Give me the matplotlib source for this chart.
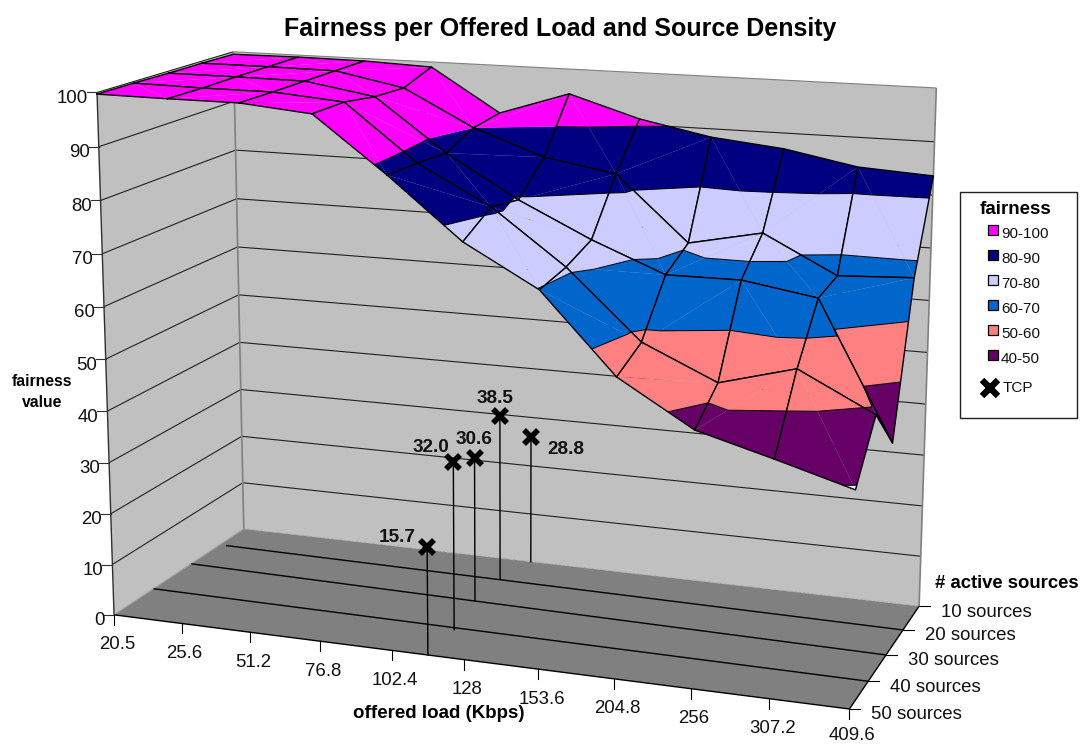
import numpy as np
import matplotlib
matplotlib.use('Agg')
import matplotlib.pyplot as plt
from matplotlib.patches import Rectangle

plt.rcParams['font.family'] = ['Liberation Sans', 'DejaVu Sans']

load_labels = ['20.5', '25.6', '51.2', '76.8', '102.4', '128', '153.6', '204.8', '256', '307.2', '409.6']
source_labels = ['50 sources', '40 sources', '30 sources', '20 sources', '10 sources']

# fairness per offered load, one list per source density
fair_50 = [99.7, 99.6, 99.6, 98.4, 88.3, 77.3, 69.8, 55.4, 47.2, 43.4, 39.4]
fair_40 = [99.7, 99.5, 99.5, 98.4, 88.0, 80.9, 70.9, 58.3, 52.1, 55.9, 48.9]
fair_30 = [99.6, 99.6, 99.5, 97.3, 87.5, 79.6, 73.1, 67.6, 67.7, 65.5, 40.0]
fair_20 = [99.6, 99.6, 99.5, 96.9, 90.0, 85.2, 82.9, 70.7, 73.6, 66.6, 67.3]
fair_10 = [99.5, 99.6, 99.5, 99.0, 90.7, 95.2, 91.1, 88.4, 87.0, 84.4, 83.6]

band_levels = [30, 40, 50, 60, 70, 80, 90, 100]
band_colors = ['#CCFFFF', '#660066', '#FF8080', '#0066CC', '#CCCCFF', '#000080', '#FF00FF']
legend_labels = ['90-100', '80-90', '70-80', '60-70', '50-60', '40-50']

# TCP points, hand placed on the original chart
tcp_labels = ['15.7', '32.0', '30.6', '38.5', '28.8']
tcp_load = [0.450, 0.447, 0.432, 0.431, 0.446]
tcp_depth = [0.0, 0.25, 0.54, 0.79, 1.0]
tcp_height = [20.6, 32.6, 28.5, 33.2, 26.0]

fair = np.array([fair_50, fair_40, fair_30, fair_20, fair_10]) / 100
n_j, n_i = fair.shape

# camera fitted on the box corners and ticks: (load, depth, height) -> pixel
anchors = [(0, 0, 0, 115, 615), (1, 0, 0, 849, 709), (1, 1, 0, 918, 607), (0, 1, 0, 244, 531),
           (0, 0, 1, 96, 94), (0, 1, 1, 233, 54), (1, 1, 1, 938, 90),
           (.1, 0, 0, 182, 623.6), (.2, 0, 0, 250, 632), (.3, 0, 0, 321, 641.5), (.4, 0, 0, 392, 651),
           (.5, 0, 0, 465, 660), (.6, 0, 0, 539, 669.5), (.9, 0, 0, 769, 699),
           (1, .25, 0, 868, 682), (1, .5, 0, 885, 656), (1, .75, 0, 903, 629),
           (0, 1, .5, 238.5, 292), (1, 1, .5, 928, 348), (0, 0, .5, 105, 355)]
A = []
for u, v, w, x, y in anchors:
    X = [u, v, w, 1]
    x, y = x / 1000, y / 1000
    A.append(X + [0, 0, 0, 0] + [-x * c for c in X])
    A.append([0, 0, 0, 0] + X + [-y * c for c in X])
P = np.linalg.svd(np.array(A))[2][-1].reshape(3, 4)
P = np.diag([1000, 1000, 1]) @ P
cam = np.linalg.svd(P)[2][-1]
cam = cam[:3] / cam[3]


def proj(pts):
    pts = np.atleast_2d(pts)
    h = P @ np.column_stack([pts, np.ones(len(pts))]).T
    return h[0] / h[2], h[1] / h[2]


def clip(poly, level, keep_above):
    out = []
    for k in range(len(poly)):
        a, b = poly[k], poly[(k + 1) % len(poly)]
        ina = a[2] >= level if keep_above else a[2] <= level
        inb = b[2] >= level if keep_above else b[2] <= level
        if ina:
            out.append(a)
        if ina != inb:
            out.append(a + (b - a) * (level - a[2]) / (b[2] - a[2]))
    return out


fig = plt.figure(figsize=(10.83, 7.45), dpi=100)
ax = fig.add_axes([0, 0, 1, 1])
ax.set_xlim(0, 1083)
ax.set_ylim(745, 0)
ax.axis('off')


def line3d(a, b, **kw):
    xs, ys = proj([a, b])
    ax.plot(xs, ys, solid_capstyle='butt', **kw)


# walls and floor
x, y = proj([(0, 0, 0), (0, 1, 0), (0, 1, 1), (0, 0, 1)])
ax.fill(x, y, color='#C0C0C0', lw=0, zorder=1)
x, y = proj([(0, 1, 0), (1, 1, 0), (1, 1, 1), (0, 1, 1)])
ax.fill(x, y, color='#C0C0C0', lw=0, zorder=1)
x, y = proj([(0, 0, 0), (1, 0, 0), (1, 1, 0), (0, 1, 0)])
ax.fill(x, y, color='#808080', lw=0, zorder=1)

for k in range(1, 11):
    h = k / 10
    line3d((0, 0, h), (0, 1, h), color='#202020', lw=0.8, zorder=2)
    line3d((0, 1, h), (1, 1, h), color='#202020' if k < 10 else '#808080', lw=0.8, zorder=2)
line3d((0, 0, 0), (0, 0, 1), color='#303030', lw=1, zorder=2)
line3d((0, 1, 0), (0, 1, 1), color='#808080', lw=1.2, zorder=2)
line3d((1, 1, 0), (1, 1, 1), color='#808080', lw=1.2, zorder=2)
line3d((0, 0, 0), (0, 1, 0), color='#A0A0A0', lw=0.8, zorder=2)
line3d((0, 1, 0), (1, 1, 0), color='#A0A0A0', lw=0.6, ls=(0, (3, 2)), zorder=2)
line3d((0, 0, 0), (1, 0, 0), color='k', lw=1, zorder=2)
line3d((1, 0, 0), (1, 1, 0), color='k', lw=1, zorder=2)

# floor lines for the middle densities
for v0, u0, v1 in [(.284, 0, .25), (.571, 0, .5), (.80, .01, .75)]:
    line3d((u0, v0, 0), (1, v1, 0), color='k', lw=1, zorder=2)

# surface, back to front
grid = np.array([[[i / (n_i - 1), j / (n_j - 1), fair[j, i]] for i in range(n_i)] for j in range(n_j)])
quads = [(j, i) for j in range(n_j - 1) for i in range(n_i - 1)]
quads.sort(key=lambda q: -np.linalg.norm(grid[q[0]:q[0] + 2, q[1]:q[1] + 2].mean(axis=(0, 1)) - cam))
zo = 10
for j, i in quads:
    a, b, c, d = grid[j, i], grid[j, i + 1], grid[j + 1, i + 1], grid[j + 1, i]
    # the quad is split on the diagonal with the larger sum
    if a[2] + c[2] >= b[2] + d[2]:
        tris = [(a, b, c), (a, c, d)]
    else:
        tris = [(b, c, d), (b, d, a)]
    for tri in tris:
        for k in range(len(band_colors)):
            poly = clip(list(tri), band_levels[k] / 100, True)
            if poly:
                poly = clip(poly, band_levels[k + 1] / 100, False)
            if len(poly) >= 3:
                x, y = proj(poly)
                ax.fill(x, y, color=band_colors[k], lw=0, zorder=zo)
    zo += 1
    for tri in tris:
        for lev in band_levels[1:-1]:
            h = lev / 100
            cross = []
            for k in range(3):
                p, q = tri[k], tri[(k + 1) % 3]
                if (p[2] - h) * (q[2] - h) < 0:
                    cross.append(p + (q - p) * (h - p[2]) / (q[2] - p[2]))
            if len(cross) == 2:
                line3d(cross[0], cross[1], color='k', lw=0.7, zorder=zo)
    x, y = proj([a, b, c, d, a])
    ax.plot(x, y, color='k', lw=1, solid_joinstyle='round', zorder=zo)
    zo += 1

# ticks and their labels
for k in range(0, 11):
    x, y = proj((0, 0, k / 10))
    ax.plot([x[0] - 10, x[0]], [y[0], y[0]], color='#303030', lw=0.8, zorder=3)
    ax.text(x[0] - 9, y[0] + 6, str(k * 10), ha='right', va='center', fontsize=13.4, color='#111111')
for i, lab in enumerate(load_labels):
    x, y = proj((i / (n_i - 1), 0, 0))
    ax.plot([x[0], x[0]], [y[0], y[0] + 10], color='k', lw=0.8, zorder=3)
    # last label sits against the bottom edge
    ax.text(x[0] + 3, min(y[0] + 30, 735.5), lab, ha='center', va='center', fontsize=13.4, color='#111111')
for j, lab in enumerate(source_labels):
    x, y = proj((1, j / (n_j - 1), 0))
    ax.plot([x[0], x[0] + 11], [y[0], y[0]], color='k', lw=0.8, zorder=3)
    ax.text(x[0] + 22, y[0] + 6, lab, ha='left', va='center', fontsize=13.4, color='#111111')

# TCP points with their drop lines
offsets = [(-30, -9), (-22, -14), (0, -19), (-5, -17), (35, 13)]
zo += 1
for k, lab in enumerate(tcp_labels):
    xs, ys = proj([(tcp_load[k], tcp_depth[k], 0), (tcp_load[k], tcp_depth[k], tcp_height[k] / 100)])
    ax.plot(xs, ys, color='k', lw=1, zorder=zo)
    ax.plot(xs[1], ys[1], marker='x', ms=9.5, mew=4, color='k', zorder=zo)
    ax.text(xs[1] + offsets[k][0], ys[1] + offsets[k][1], lab, ha='center', va='center',
            fontsize=13.7, fontweight='bold', color='#111111', zorder=zo)

# titles
ax.text(560, 29, 'Fairness per Offered Load and Source Density', ha='center', va='center',
        fontsize=18, fontweight='bold')
ax.text(42, 392, 'fairness\nvalue', ha='center', va='center', fontsize=11.3, fontweight='bold', linespacing=1.5)
ax.text(439, 714, 'offered load (Kbps)', ha='center', va='center', fontsize=13.5, fontweight='bold')
ax.text(935, 583, '# active sources', ha='left', va='center', fontsize=13.3, fontweight='bold')

# legend
ax.add_patch(Rectangle((960, 192), 117, 226, fc='white', ec='#202020', lw=1, zorder=3))
ax.text(1016, 209, 'fairness', ha='center', va='center', fontsize=13.5, fontweight='bold', zorder=4)
legend_y = [230, 255, 280, 305, 330, 355]
for k, lab in enumerate(legend_labels):
    ax.add_patch(Rectangle((988, legend_y[k] - 5), 10, 10, fc=band_colors[::-1][k], ec='k', lw=0.9, zorder=4))
    ax.text(1001, legend_y[k] + 4, lab, ha='left', va='center', fontsize=11, color='#111111', zorder=4)
ax.plot(990, 388, marker='x', ms=11.5, mew=4.6, color='k', zorder=4)
ax.text(1003, 388, 'TCP', ha='left', va='center', fontsize=11, color='#111111', zorder=4)

fig.savefig('out.png', dpi=100)
